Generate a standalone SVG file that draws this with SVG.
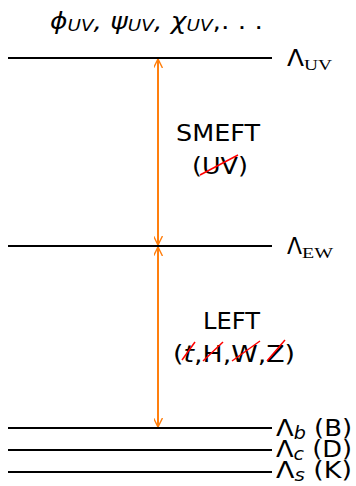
<svg xmlns="http://www.w3.org/2000/svg" width="356" height="486" viewBox="0 0 356 486">
<style>
.s{font-family:"DejaVu Sans",sans-serif;font-size:23px;fill:#000}
.i{font-style:italic}
.sub{font-family:"Liberation Serif",serif;font-size:15px;fill:#000}
.lvl{stroke:#000;stroke-width:2}
.arr{stroke:#ff7f0e;stroke-width:2;fill:none}
.x{stroke:#ff0000;stroke-width:1.5}
</style>
<defs>
<marker id="ah" viewBox="0 0 10 10" refX="10" refY="5" markerWidth="9" markerHeight="9" markerUnits="userSpaceOnUse" orient="auto">
<path d="M0,0 L10,5 L0,10" fill="none" stroke="#ff7f0e" stroke-width="1.6"/>
</marker>
</defs>
<g id="title"><text class="s i" x="50" y="29" font-size="22" textLength="213" lengthAdjust="spacingAndGlyphs">ϕ<tspan font-size="16" dy="2">UV</tspan><tspan dy="-2">, ψ</tspan><tspan font-size="16" dy="2">UV</tspan><tspan dy="-2">, χ</tspan><tspan font-size="16" dy="2">UV</tspan><tspan dy="-2" font-style="normal">,. . .</tspan></text></g>
<g id="uv"><line class="lvl" x1="8" y1="58" x2="272" y2="58"/><text class="s" x="287" y="66" font-size="21" textLength="17" lengthAdjust="spacingAndGlyphs">Λ</text><text class="sub" x="304" y="70" textLength="28" lengthAdjust="spacingAndGlyphs">UV</text></g>
<g id="ew"><line class="lvl" x1="8" y1="246" x2="272" y2="246"/><text class="s" x="287" y="254" font-size="21" textLength="15" lengthAdjust="spacingAndGlyphs">Λ</text><text class="sub" x="302" y="258" textLength="31" lengthAdjust="spacingAndGlyphs">EW</text></g>
<g id="b"><line class="lvl" x1="8" y1="428" x2="272" y2="428"/><text class="s" x="276" y="436" textLength="76" lengthAdjust="spacingAndGlyphs">Λ<tspan class="i" font-size="17" dy="3">b</tspan><tspan dy="-3"> (B)</tspan></text></g>
<g id="c"><line class="lvl" x1="8" y1="450" x2="272" y2="450"/><text class="s" x="276" y="457" textLength="76" lengthAdjust="spacingAndGlyphs">Λ<tspan class="i" font-size="17" dy="3">c</tspan><tspan dy="-3"> (D)</tspan></text></g>
<g id="s"><line class="lvl" x1="8" y1="472" x2="272" y2="472"/><text class="s" x="276" y="478" textLength="76" lengthAdjust="spacingAndGlyphs">Λ<tspan class="i" font-size="17" dy="3">s</tspan><tspan dy="-3"> (K)</tspan></text></g>
<g id="smeft"><text class="s" x="176" y="141" textLength="84" lengthAdjust="spacingAndGlyphs">SMEFT</text><text class="s" x="192" y="174" textLength="56" lengthAdjust="spacingAndGlyphs">(UV)</text><line class="x" x1="200" y1="175" x2="238" y2="155"/></g>
<g id="left"><text class="s" x="203" y="329" textLength="57" lengthAdjust="spacingAndGlyphs">LEFT</text><text class="s" x="173" y="362" textLength="122" lengthAdjust="spacingAndGlyphs">(<tspan class="i">t</tspan>,H,W,Z)</text><line class="x" x1="182" y1="360" x2="195" y2="342"/><line class="x" x1="203" y1="361" x2="223" y2="342"/><line class="x" x1="232" y1="361" x2="260" y2="341"/><line class="x" x1="267" y1="361" x2="285" y2="340"/></g>
<g id="connectors">
<line class="arr" x1="158" y1="152" x2="158" y2="59" marker-end="url(#ah)"/>
<line class="arr" x1="158" y1="152" x2="158" y2="245" marker-end="url(#ah)"/>
<line class="arr" x1="158" y1="337" x2="158" y2="247" marker-end="url(#ah)"/>
<line class="arr" x1="158" y1="337" x2="158" y2="427" marker-end="url(#ah)"/>
</g>
</svg>
